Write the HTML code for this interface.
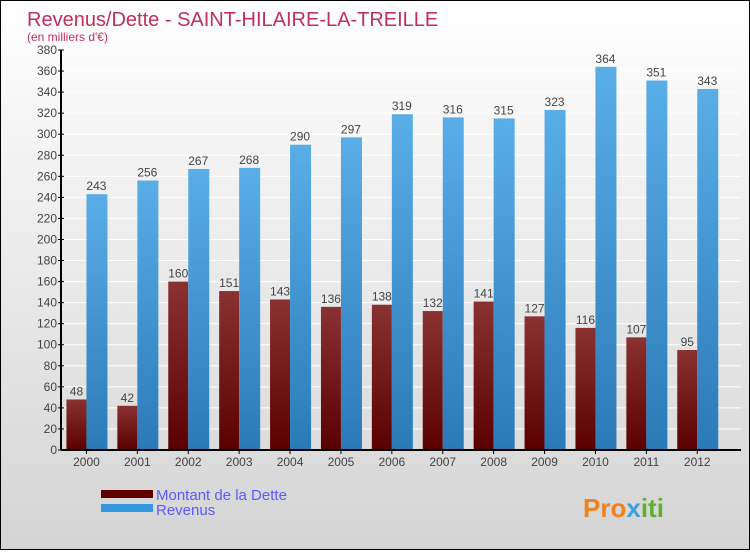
<!DOCTYPE html>
<html><head><meta charset="utf-8"><style>
body{margin:0;width:750px;height:550px;overflow:hidden;font-family:"Liberation Sans",sans-serif}
#wrap{position:absolute;left:0;top:0;width:748px;height:548px;border:1px solid #000;background:linear-gradient(#ffffff,#d4d4d4)}
</style></head><body>
<div id="wrap">
<svg id="chart" width="748" height="548">
<defs>
<linearGradient id="gd" x1="0" y1="0" x2="0" y2="1"><stop offset="0" stop-color="#8a3232"/><stop offset="1" stop-color="#5a0000"/></linearGradient>
<linearGradient id="gr" x1="0" y1="0" x2="0" y2="1"><stop offset="0" stop-color="#5aaee8"/><stop offset="1" stop-color="#2a7ab8"/></linearGradient>
</defs>
<text x="26" y="25" font-size="20" fill="#c0305a">Revenus/Dette - SAINT-HILAIRE-LA-TREILLE</text>
<text x="26" y="40" font-size="12" fill="#c0305a">(en milliers d'€)</text>
<g id="plot"></g>
<rect x="100" y="489" width="52" height="8" fill="#600000"/>
<text x="155" y="499" font-size="15" fill="#5a5aff">Montant de la Dette</text>
<rect x="100" y="503" width="52" height="8" fill="#3398e0"/>
<text x="155" y="514" font-size="15" fill="#5a5aff">Revenus</text>
<text x="582" y="516" font-size="26" font-weight="bold" fill="#f08020">Pro<tspan fill="#3aa0e0">x</tspan><tspan fill="#60b030">iti</tspan></text>
</svg></div>
<script>
const years=["2000","2001","2002","2003","2004","2005","2006","2007","2008","2009","2010","2011","2012"];
const debt=[48,42,160,151,143,136,138,132,141,127,116,107,95];
const revenue=[243,256,267,268,290,297,319,316,315,323,364,351,343];
const yTicks=[0,20,40,60,80,100,120,140,160,180,200,220,240,260,280,300,320,340,360,380];
const NS="http://www.w3.org/2000/svg";
const g=document.getElementById('plot');
const x0=60,band=50.9,yBase=449,yMax=380,ph=400;
const y=v=>yBase-v/yMax*ph;
function mk(t,a,txt){const e=document.createElementNS(NS,t);for(const k in a)e.setAttribute(k,a[k]);if(txt!=null)e.textContent=txt;g.appendChild(e);return e;}
yTicks.forEach(v=>{
 const l=mk('line',{x1:x0,x2:x0+740-x0,y1:y(v),y2:y(v),stroke:'#ffffff','stroke-width':1});
 
 
 const t=mk('line',{x1:x0-3,x2:x0+3,y1:y(v),y2:y(v),stroke:'#000'});
 
 
 const tx=mk('text',{x:x0-4,y:y(v)+4,'font-size':12,fill:'#444','text-anchor':'end'},v);
 
 
});
years.forEach((yr,i)=>{
 const c=x0+band*(i+0.5);
 const d=mk('rect',{x:c-20,y:y(debt[i]),width:20,height:yBase-y(debt[i]),fill:'url(#gd)'});
 
 
 const r=mk('rect',{x:c,y:y(revenue[i]),width:21,height:yBase-y(revenue[i]),fill:'url(#gr)'});
 
 
 const dl=mk('text',{x:c-10,y:y(debt[i])-4,'font-size':12,fill:'#444','text-anchor':'middle'},debt[i]);
 
 
 const rl=mk('text',{x:c+10,y:y(revenue[i])-4,'font-size':12,fill:'#444','text-anchor':'middle'},revenue[i]);
 
 
 const xt=mk('line',{x1:c,x2:c,y1:yBase,y2:yBase+4,stroke:'#000'});
 
 
 const xl=mk('text',{x:c,y:yBase+16,'font-size':12,fill:'#444','text-anchor':'middle'},yr);
 
 
});
const ax=mk('line',{x1:x0,x2:x0,y1:y(380),y2:yBase,stroke:'#000','stroke-width':2});


const bx=mk('line',{x1:x0,x2:740,y1:yBase,y2:yBase,stroke:'#000','stroke-width':2});


</script>
</body></html>
